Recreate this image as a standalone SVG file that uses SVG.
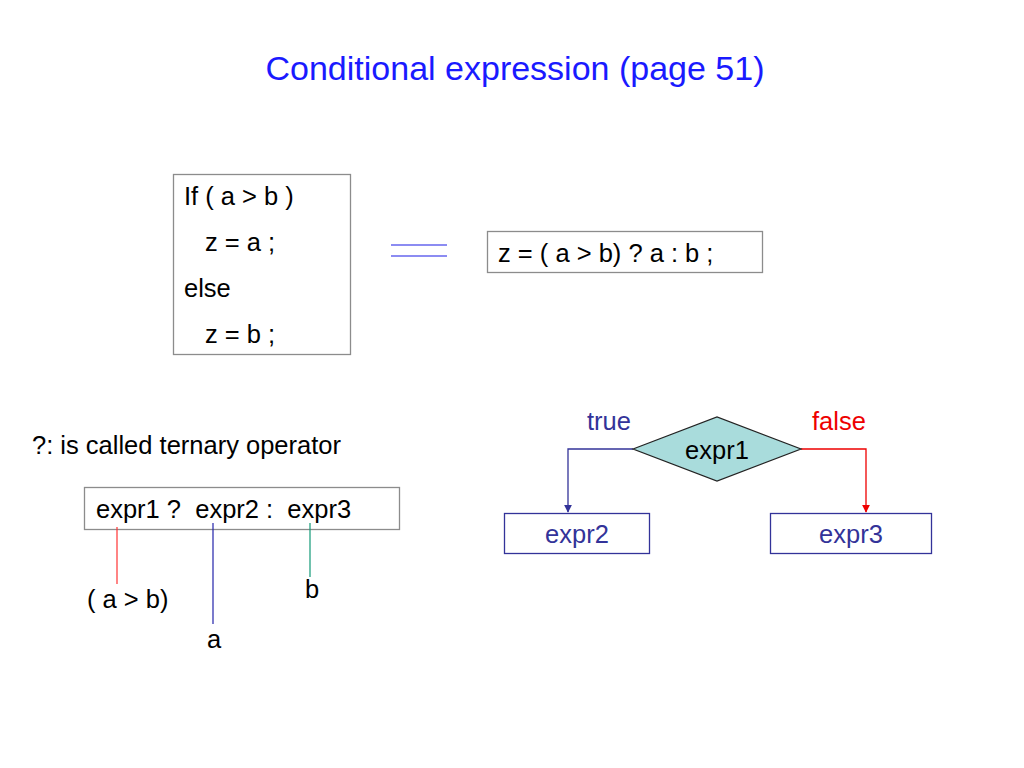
<svg xmlns="http://www.w3.org/2000/svg" width="1024" height="768" viewBox="0 0 1024 768">
<defs>
<style>
text{font-family:"Liberation Sans",Arial,sans-serif;font-size:25.5px;fill:#000;white-space:pre}
.box{fill:#fff;stroke:#8c8c8c;stroke-width:1.3}
.nbox{fill:#fff;stroke:#333399;stroke-width:1.3}
.n{fill:#333399}
</style>
<marker id="ab" viewBox="0 0 10 10" refX="9" refY="5" markerWidth="8" markerHeight="8" markerUnits="userSpaceOnUse" orient="auto"><path d="M0,0L10,5L0,10z" fill="#333399"/></marker>
<marker id="ar" viewBox="0 0 10 10" refX="9" refY="5" markerWidth="8" markerHeight="8" markerUnits="userSpaceOnUse" orient="auto"><path d="M0,0L10,5L0,10z" fill="#ee0000"/></marker>
</defs>
<rect width="1024" height="768" fill="#fff"/>
<text x="515" y="80" text-anchor="middle" style="font-size:34px;fill:#1a1aff">Conditional expression (page 51)</text>
<g id="ifelse">
<rect class="box" x="173.5" y="174.5" width="177" height="180"/>
<text x="184" y="205">If ( a &gt; b )</text>
<text x="205" y="251">z = a ;</text>
<text x="184" y="297">else</text>
<text x="205" y="343">z = b ;</text>
</g>
<g id="equiv">
<line x1="391" y1="245" x2="447" y2="245" stroke="#6666ee" stroke-width="1.5"/>
<line x1="391" y1="256" x2="447" y2="256" stroke="#6666ee" stroke-width="1.5"/>
</g>
<g id="ternary">
<rect class="box" x="487.5" y="231.5" width="275" height="41"/>
<text x="498" y="262">z = ( a &gt; b) ? a : b ;</text>
</g>
<text x="32" y="454">?: is called ternary operator</text>
<g id="syntax">
<rect class="box" x="84.5" y="487.5" width="315" height="42"/>
<text x="96" y="518">expr1 ?  expr2 :  expr3</text>
</g>
<g id="annotations">
<line x1="117" y1="527" x2="117" y2="584" stroke="#ff3333" stroke-width="1.2"/>
<line x1="213" y1="523" x2="213" y2="624" stroke="#2222aa" stroke-width="1.2"/>
<line x1="310" y1="523" x2="310" y2="577" stroke="#119977" stroke-width="1.2"/>
<text x="87" y="608">( a &gt; b)</text>
<text x="207" y="648">a</text>
<text x="305" y="598">b</text>
</g>
<g id="connectors">
<polyline points="633,449 568,449 568,512" fill="none" stroke="#333399" stroke-width="1.3" marker-end="url(#ab)"/>
<polyline points="801,449 866,449 866,512" fill="none" stroke="#ee0000" stroke-width="1.3" marker-end="url(#ar)"/>
<text x="587" y="430" class="n">true</text>
<text x="812" y="430" style="fill:#ee0000">false</text>
</g>
<g id="expr1">
<polygon points="633,449 717,417 801,449 717,481" fill="#a9dcdc" stroke="#222" stroke-width="1.2"/>
<text x="717" y="459" text-anchor="middle">expr1</text>
</g>
<g id="expr2">
<rect class="nbox" x="504.5" y="513.5" width="145" height="40"/>
<text x="577" y="543" text-anchor="middle" class="n">expr2</text>
</g>
<g id="expr3">
<rect class="nbox" x="770.5" y="513.5" width="161" height="40"/>
<text x="851" y="543" text-anchor="middle" class="n">expr3</text>
</g>
</svg>
